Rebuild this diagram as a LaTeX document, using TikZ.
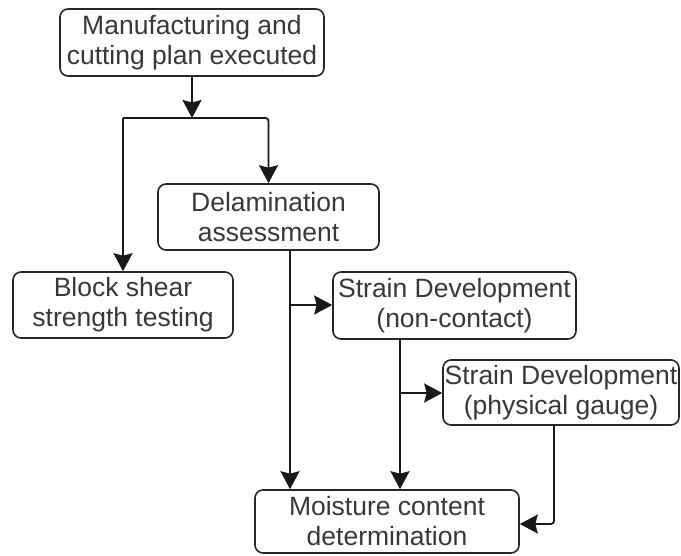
\documentclass[tikz,border=0pt]{standalone}
\usepackage{fontspec}
\setmainfont{Liberation Sans}
\usetikzlibrary{arrows.meta}
\begin{document}
\begin{tikzpicture}[x=1pt,y=-1pt,
  box/.style={draw=black!85, line width=1.6pt, rounded corners=8pt, inner sep=0pt,
    align=center, text=black!78, font=\fontsize{26.5}{30}\selectfont},
  conn/.style={draw=black!90, line width=1.8pt},
  arr/.style={conn, -{Stealth[width=19pt,length=18pt,inset=2.5pt]}}]
\useasboundingbox (0,0) rectangle (681,555);
\node[box, minimum width=264pt, minimum height=67pt] (top) at (192,42.5) {Manufacturing and\\cutting plan executed};
\node[box, minimum width=221pt, minimum height=66pt] (delam) at (268.5,217) {Delamination\\assessment};
\node[box, minimum width=220pt, minimum height=66pt] (block) at (123,305) {Block shear\\strength testing};
\node[box, minimum width=243pt, minimum height=67pt] (snc) at (454.5,305.5) {Strain Development\\(non-contact)};
\node[box, minimum width=236pt, minimum height=65pt] (spg) at (561,392.5) {Strain Development\\(physical gauge)};
\node[box, minimum width=264pt, minimum height=63pt] (moist) at (387,521.5) {Moisture content\\determination};
% top split
\coordinate (jm) at (192,118);
\coordinate (jl) at (123,118);
\coordinate (jr) at (268.5,118);
\draw[arr] (top.south) -- (jm);
\draw[conn] (jl) -- (jm);
\draw[arr, rounded corners=3pt] (jm) -- (jr) -- (delam.north);
\draw[arr] (jl) -- (block.north);
% delamination
\coordinate (d1) at (290,305);
\draw[arr] (delam.south -| d1) -- (moist.north -| d1);
\draw[arr] (d1) -- (snc.west |- d1);
% non-contact
\coordinate (d2) at (400,393);
\draw[arr] (snc.south -| d2) -- (moist.north -| d2);
\draw[arr] (d2) -- (spg.west |- d2);
% physical gauge
\coordinate (d3) at (554,524);
\draw[arr, rounded corners=3pt] (spg.south -| d3) -- (d3) -- (moist.east |- d3);
\end{tikzpicture}
\end{document}
